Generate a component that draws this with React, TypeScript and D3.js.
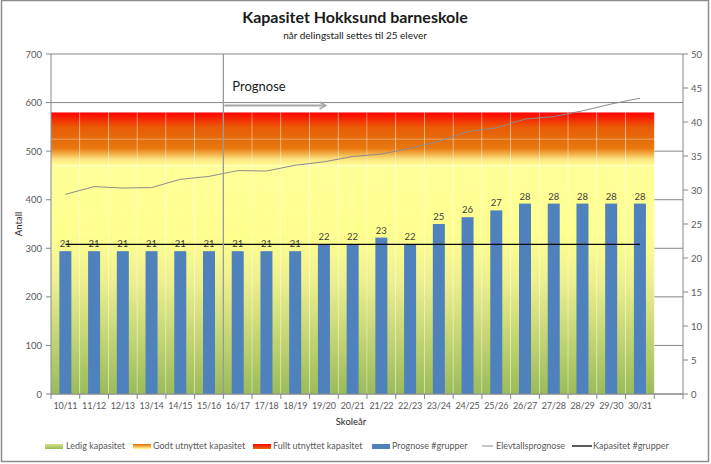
import * as d3 from "d3";

// Skoleår (kategorier)
const years = [
  "10/11", "11/12", "12/13", "13/14", "14/15", "15/16", "16/17", "17/18",
  "18/19", "19/20", "20/21", "21/22", "22/23", "23/24", "24/25", "25/26",
  "26/27", "27/28", "28/29", "29/30", "30/31",
];
// Prognose #grupper (høyre akse)
const groups = [21, 21, 21, 21, 21, 21, 21, 21, 21, 22, 22, 23, 22, 25, 26, 27, 28, 28, 28, 28, 28];
// Kapasitet #grupper (høyre akse)
const capacityGroups = [22, 22, 22, 22, 22, 22, 22, 22, 22, 22, 22, 22, 22, 22, 22, 22, 22, 22, 22, 22, 22];
// Elevtallsprognose (venstre akse)
const students = [411, 427, 424, 425, 442, 448, 460, 459, 471, 478, 489, 494, 506, 520, 540, 548, 566, 571, 583, 597, 609];
// Kapasitetsbånd (stablet, venstre akse)
const bandNames = ["Ledig kapasitet", "Godt utnyttet kapasitet", "Fullt utnyttet kapasitet"];
const bandValues = [470, 55, 55];
const leftTicks = [0, 100, 200, 300, 400, 500, 600, 700];
const rightTicks = [0, 5, 10, 15, 20, 25, 30, 35, 40, 45, 50];

const W = 711;
const H = 464;
const plot = { left: 51, right: 683, top: 54, bottom: 394 };
const font = "Lato, 'Open Sans', sans-serif";
const axisColor = "#868686";
const textColor = "#595959";

export default function App() {
  const bandW = (plot.right - plot.left) / (years.length + 1);
  const x = d3
    .scaleBand<string>()
    .domain(years)
    .range([plot.left, plot.left + bandW * years.length])
    .padding(0);
  const yL = d3.scaleLinear().domain([0, 700]).range([plot.bottom, plot.top]);
  const yR = d3.scaleLinear().domain([0, 50]).range([plot.bottom, plot.top]);
  const cx = (d: string) => (x(d) || 0) + bandW / 2;
  const barW = 12;

  // stablede bånd
  const stacks: { y0: number; y1: number; i: number }[] = [];
  let acc = 0;
  bandValues.forEach((v, i) => {
    stacks.push({ y0: acc, y1: acc + v, i });
    acc += v;
  });
  const gradIds = ["gLedig", "gGodt", "gFullt"];

  const elevLine = d3
    .line<number>()
    .x((_, i) => cx(years[i]))
    .y((d) => yL(d))(students);
  const capLine = d3
    .line<number>()
    .x((_, i) => cx(years[i]))
    .y((d) => yR(d))(capacityGroups);

  const progX = x("16/17") || 0;
  const arrowX1 = (x("19/20") || 0) + bandW * 0.56;
  const arrowY = yL(594);

  const legendY = 446;

  return (
    <svg
      width={W}
      height={H}
      style={{ position: "absolute", left: 0, top: 0, background: "#fff" }}
      fontFamily={font}
    >
      <defs>
        <linearGradient id="gLedig" x1="0" y1="1" x2="0" y2="0">
          <stop offset="0" stopColor="#9BBB59" />
          <stop offset="0.5" stopColor="#EEF08E" />
          <stop offset="0.7" stopColor="#FFFF8F" />
          <stop offset="1" stopColor="#FFFF99" />
        </linearGradient>
        <linearGradient id="gGodt" x1="0" y1="1" x2="0" y2="0">
          <stop offset="0" stopColor="#FFFF95" />
          <stop offset="0.25" stopColor="#FBE27E" />
          <stop offset="0.65" stopColor="#E9780F" />
          <stop offset="1" stopColor="#E46C0A" />
        </linearGradient>
        <linearGradient id="gFullt" x1="0" y1="1" x2="0" y2="0">
          <stop offset="0" stopColor="#E46C0A" />
          <stop offset="0.45" stopColor="#EA5A06" />
          <stop offset="1" stopColor="#FF0000" />
        </linearGradient>
        <linearGradient id="lgLedig" x1="0" y1="1" x2="0" y2="0">
          <stop offset="0" stopColor="#98B954" />
          <stop offset="1" stopColor="#D8E48A" />
        </linearGradient>
        <linearGradient id="lgGodt" x1="0" y1="1" x2="0" y2="0">
          <stop offset="0" stopColor="#FFFF99" />
          <stop offset="1" stopColor="#E46C0A" />
        </linearGradient>
        <linearGradient id="lgFullt" x1="0" y1="1" x2="0" y2="0">
          <stop offset="0" stopColor="#E46C0A" />
          <stop offset="1" stopColor="#FF0000" />
        </linearGradient>
      </defs>

      {/* ramme */}
      <rect x={1.5} y={0.5} width={707} height={461} fill="#fff" stroke="#8c8c8c" strokeWidth={1.5} />

      {/* tittel */}
      <text x={355} y={23} textAnchor="middle" fontSize={16} fontWeight="bold" fill="#1a1a1a">
        Kapasitet Hokksund barneskole
      </text>
      <text x={355} y={39} textAnchor="middle" fontSize={10} fill="#1a1a1a">
        når delingstall settes til 25 elever
      </text>

      {/* rutenett */}
      {leftTicks.map((t) => (
        <line key={t} x1={plot.left} x2={plot.right} y1={yL(t)} y2={yL(t)} stroke={axisColor} />
      ))}

      {/* kapasitetsbånd */}
      {years.map((yr) =>
        stacks.map((s) => (
          <rect
            key={yr + s.i}
            x={x(yr)}
            y={yL(s.y1)}
            width={bandW}
            height={yL(s.y0) - yL(s.y1)}
            fill={`url(#${gradIds[s.i]})`}
            stroke="#ffffff"
            strokeOpacity={0.35}
            strokeWidth={0.8}
          />
        ))
      )}

      {/* søyler */}
      {years.map((yr, i) => (
        <rect
          key={"b" + yr}
          x={cx(yr) - barW / 2}
          y={yR(groups[i])}
          width={barW}
          height={plot.bottom - yR(groups[i])}
          fill="#4F81BD"
        />
      ))}
      {years.map((yr, i) => (
        <text
          key={"l" + yr}
          x={cx(yr)}
          y={yR(groups[i]) - 4}
          textAnchor="middle"
          fontSize={9.5}
          fill="#404040"
        >
          {groups[i]}
        </text>
      ))}

      {/* elevtallsprognose */}
      <path d={elevLine || ""} fill="none" stroke="#8c8c8c" strokeWidth={1} />
      {/* kapasitet */}
      <path d={capLine || ""} fill="none" stroke="#000" strokeWidth={1.3} />

      {/* prognose-markering */}
      <line x1={progX} x2={progX} y1={plot.top} y2={plot.bottom} stroke="#9a9a9a" strokeWidth={1.3} />
      <text x={progX + 9} y={91} fontSize={13} fill="#1a1a1a">
        Prognose
      </text>
      <line x1={progX + 1} x2={arrowX1} y1={arrowY} y2={arrowY} stroke="#a6a6a6" strokeWidth={2} />
      <path
        d={`M${arrowX1 - 6},${arrowY - 3.5} L${arrowX1},${arrowY} L${arrowX1 - 6},${arrowY + 3.5}`}
        fill="none"
        stroke="#a6a6a6"
        strokeWidth={1.5}
      />

      {/* akser */}
      <line x1={plot.left} x2={plot.left} y1={plot.top} y2={plot.bottom} stroke={axisColor} />
      <line x1={plot.right} x2={plot.right} y1={plot.top} y2={plot.bottom} stroke={axisColor} />
      <line x1={plot.left} x2={plot.right} y1={plot.bottom} y2={plot.bottom} stroke={axisColor} />
      {leftTicks.map((t) => (
        <g key={"lt" + t}>
          <line x1={plot.left - 5} x2={plot.left} y1={yL(t)} y2={yL(t)} stroke={axisColor} />
          <text x={plot.left - 9} y={yL(t) + 3.5} textAnchor="end" fontSize={9.5} fill={textColor}>
            {t}
          </text>
        </g>
      ))}
      {rightTicks.map((t) => (
        <g key={"rt" + t}>
          <line x1={plot.right} x2={plot.right + 5} y1={yR(t)} y2={yR(t)} stroke={axisColor} />
          <text x={plot.right + 8} y={yR(t) + 3.5} textAnchor="start" fontSize={9.5} fill={textColor}>
            {t}
          </text>
        </g>
      ))}
      {d3.range(years.length + 2).map((i) => (
        <line
          key={"xt" + i}
          x1={plot.left + i * bandW}
          x2={plot.left + i * bandW}
          y1={plot.bottom}
          y2={plot.bottom + 5}
          stroke={axisColor}
        />
      ))}
      {years.map((yr) => (
        <text
          key={"xl" + yr}
          x={cx(yr)}
          y={plot.bottom + 15}
          textAnchor="middle"
          fontSize={9}
          letterSpacing={-0.2}
          fill={textColor}
        >
          {yr}
        </text>
      ))}
      <text x={351} y={425} textAnchor="middle" fontSize={9.5} fill="#262626">
        Skoleår
      </text>
      <text
        transform={`translate(22,${(plot.top + plot.bottom) / 2}) rotate(-90)`}
        textAnchor="middle"
        fontSize={9.5}
        fill="#262626"
      >
        Antall
      </text>

      {/* tegnforklaring */}
      <rect x={45} y={legendY - 2} width={18} height={5} fill="url(#lgLedig)" />
      <text x={66} y={legendY + 3} fontSize={9} fill={textColor}>{bandNames[0]}</text>
      <rect x={133} y={legendY - 2} width={18} height={5} fill="url(#lgGodt)" />
      <text x={153} y={legendY + 3} fontSize={9} fill={textColor}>{bandNames[1]}</text>
      <rect x={253} y={legendY - 2} width={18} height={5} fill="url(#lgFullt)" />
      <text x={273} y={legendY + 3} fontSize={9} fill={textColor}>{bandNames[2]}</text>
      <rect x={372} y={legendY - 2} width={18} height={5} fill="#4F81BD" />
      <text x={392} y={legendY + 3} fontSize={9} fill={textColor}>Prognose #grupper</text>
      <line x1={482} x2={493} y1={legendY} y2={legendY} stroke="#8c8c8c" />
      <text x={496} y={legendY + 3} fontSize={9} fill={textColor}>Elevtallsprognose</text>
      <line x1={572} x2={592} y1={legendY} y2={legendY} stroke="#000" strokeWidth={1.3} />
      <text x={593} y={legendY + 3} fontSize={9} fill={textColor}>Kapasitet #grupper</text>
    </svg>
  );
}
